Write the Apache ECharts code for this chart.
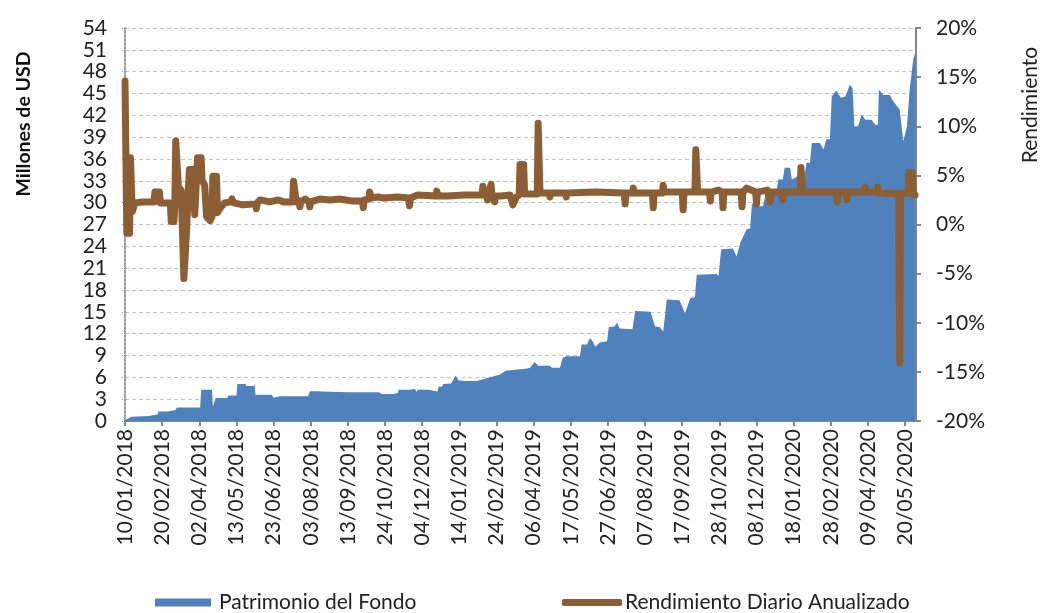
<!DOCTYPE html>
<html>
<head>
<meta charset="utf-8">
<script src="https://cdn.jsdelivr.net/npm/echarts@6/dist/echarts.min.js"></script>
<style>
  html, body { margin: 0; padding: 0; background: #fff; }
  #chart { width: 1042px; height: 613px; }
</style>
</head>
<body>
<div id="chart"></div>
<script>
// días contados desde 10/01/2018
const inicio = Date.UTC(2018, 0, 10);

// Patrimonio del Fondo (millones de USD)
const fondoDias = [0, 3, 7, 26, 28, 36, 37, 47, 48, 56, 57, 83, 84, 96, 97, 99, 100, 113, 114, 123,
  124, 133, 134, 142, 143, 144, 162, 164, 171, 202, 204, 212, 214, 217, 246, 280, 284, 296, 298, 301,
  302, 314, 316, 320, 322, 323, 335, 337, 345, 346, 350, 351, 360, 365, 368, 375, 388, 400, 414, 420,
  422, 444, 447, 452, 456, 469, 471, 480, 483, 487, 502, 504, 510, 513, 516, 519, 524, 532, 534, 540,
  543, 546, 560, 563, 580, 585, 590, 594, 598, 612, 618, 624, 629, 631, 653, 655, 658, 671, 675, 679,
  686, 690, 692, 694, 704, 708, 719, 721, 726, 728, 734, 736, 742, 750, 752, 756, 758, 767, 771, 774,
  778, 780, 785, 790, 795, 800, 803, 805, 809, 813, 817, 824, 828, 831, 832, 837, 844, 848, 855, 859,
  863, 866, 870, 872];
const fondoValores = [0.1, 0.3, 0.6, 0.7, 0.9, 0.9, 1.3, 1.3, 1.5, 1.5, 1.85, 1.85, 4.3, 4.3, 2.0, 2.0, 3.15, 3.15, 3.5, 3.5,
  5.1, 5.1, 4.8, 4.8, 5.1, 3.6, 3.6, 3.2, 3.4, 3.4, 4.1, 4.1, 4.3, 4.05, 3.95, 3.95, 3.7, 3.7, 3.85, 3.85,
  4.3, 4.3, 4.4, 4.4, 4.0, 4.3, 4.3, 4.05, 4.05, 4.7, 4.7, 5.1, 5.15, 6.25, 5.6, 5.5, 5.5, 5.9, 6.4, 6.9,
  7.1, 7.2, 7.3, 8.1, 7.6, 7.6, 7.3, 7.3, 8.7, 8.9, 8.9, 10.5, 10.5, 11.4, 11.0, 10.2, 10.8, 10.96, 12.9, 13.0,
  13.5, 12.7, 12.6, 15.1, 15.0, 13.0, 12.9, 12.3, 16.7, 16.6, 14.8, 16.9, 17.0, 20.1, 20.2, 19.9, 23.6, 23.7, 22.6, 24.5,
  26.3, 26.5, 30.0, 29.5, 29.5, 31.6, 31.6, 33.2, 33.2, 34.8, 34.8, 33.2, 33.6, 33.6, 35.5, 35.5, 38.2, 38.2, 37.3, 38.7,
  38.7, 44.6, 45.4, 44.4, 44.6, 46.2, 45.7, 40.5, 40.5, 42.1, 41.4, 41.4, 40.7, 40.7, 45.5, 44.8, 44.8, 43.9, 42.8, 38.4,
  40.5, 45.5, 49.7, 50.5];

// Rendimiento Diario Anualizado (%)
const rendDias = [0, 1, 2, 5, 6, 7, 8, 9, 11, 20, 32, 33, 38, 39, 50, 51, 54, 55, 56, 58,
  59, 62, 65, 66, 68, 70, 71, 75, 77, 79, 80, 84, 85, 88, 90, 94, 96, 97, 101, 102,
  106, 110, 117, 118, 120, 130, 144, 145, 146, 149, 160, 169, 175, 185, 186, 188, 189, 192, 193, 194,
  199, 203, 204, 205, 215, 226, 237, 250, 262, 263, 264, 269, 270, 272, 279, 286, 301, 313, 314, 315,
  323, 343, 344, 346, 356, 375, 394, 395, 396, 399, 400, 401, 403, 404, 405, 407, 408, 409, 415, 425,
  428, 432, 435, 436, 440, 441, 455, 456, 457, 458, 468, 469, 470, 486, 487, 488, 520, 551, 552, 553,
  560, 561, 562, 582, 583, 584, 593, 594, 595, 615, 616, 617, 629, 630, 631, 632, 645, 646, 647, 655,
  659, 660, 661, 680, 681, 682, 686, 696, 697, 698, 709, 711, 712, 713, 725, 726, 727, 745, 746, 747,
  748, 770, 785, 786, 787, 796, 797, 798, 816, 817, 818, 830, 831, 832, 854, 855, 856, 864, 865, 869,
  870, 872];
const rendValores = [14.6, 14.6, -0.9, -0.9, 6.8, 6.8, 1.3, 1.6, 2.2, 2.3, 2.3, 3.3, 3.3, 2.2, 2.2, 0.3, 0.3, 2.2, 8.5, 8.5,
  3.8, 3.5, -5.5, -5.5, -0.5, -0.3, 5.6, 5.6, 1.0, 1.2, 6.8, 6.8, 4.5, 4.0, 0.8, 0.4, 0.8, 4.9, 4.9, 1.2,
  1.8, 2.2, 2.3, 2.6, 2.2, 2.0, 2.1, 1.6, 2.2, 2.5, 2.3, 2.5, 2.3, 2.3, 4.4, 4.4, 2.3, 2.4, 1.8, 2.3,
  2.6, 2.3, 1.8, 2.3, 2.6, 2.5, 2.6, 2.4, 2.4, 1.7, 2.5, 2.6, 3.3, 2.7, 2.8, 2.7, 2.8, 2.7, 1.9, 2.7,
  3.0, 2.9, 3.4, 2.9, 2.9, 3.0, 3.0, 3.9, 3.0, 2.9, 2.5, 2.9, 2.9, 4.1, 2.9, 2.9, 2.3, 2.9, 2.9, 3.0,
  2.0, 2.8, 3.0, 6.1, 6.1, 3.1, 3.1, 10.3, 10.3, 3.2, 3.2, 2.8, 3.2, 3.2, 2.8, 3.2, 3.3, 3.2, 2.1, 3.2,
  3.2, 3.7, 3.2, 3.2, 1.7, 3.2, 3.2, 4.0, 3.3, 3.3, 1.5, 3.3, 3.3, 7.6, 7.6, 3.3, 3.3, 2.4, 3.3, 3.5,
  3.3, 1.7, 3.3, 3.3, 1.8, 3.3, 3.7, 3.3, 2.1, 3.3, 3.5, 3.3, 2.3, 3.3, 3.3, 2.5, 3.3, 3.3, 5.8, 5.8,
  3.3, 3.3, 3.3, 2.3, 3.3, 3.3, 2.5, 3.3, 3.3, 3.8, 3.3, 3.3, 3.8, 3.2, 3.1, -14.1, 3.1, 3.2, 5.3, 5.3,
  3.0, 3.0];

const azul = '#4F81BD';
const cafe = '#8C5E33';
const fuente = 'Lato, "Noto Sans", sans-serif';

function fecha(dia) {
  const d = new Date(inicio + dia * 86400000);
  const dd = String(d.getUTCDate()).padStart(2, '0');
  const mm = String(d.getUTCMonth() + 1).padStart(2, '0');
  return dd + '/' + mm + '/' + d.getUTCFullYear();
}

const chart = echarts.init(document.getElementById('chart'));

chart.setOption({
  animation: false,
  textStyle: { fontFamily: fuente },
  grid: { left: 125, right: 126, top: 28, bottom: 192 },
  legend: [
    {
      left: 155, top: 592, padding: 0,
      itemWidth: 56, itemHeight: 8, icon: 'rect',
      textStyle: { fontSize: 21, color: '#222', padding: [0, 0, 0, 3] },
      data: ['Patrimonio del Fondo']
    },
    {
      left: 562, top: 592, padding: 0,
      itemWidth: 60, itemHeight: 7, icon: 'roundRect',
      textStyle: { fontSize: 21, color: '#222', padding: [0, 0, 0, -2] },
      data: ['Rendimiento Diario Anualizado']
    }
  ],
  xAxis: {
    type: 'value',
    min: 0, max: 873, interval: 41,
    axisLine: { onZero: false, lineStyle: { color: '#868686', width: 2 } },
    axisTick: { length: 5, lineStyle: { color: '#868686', width: 2 } },
    axisLabel: {
      rotate: 90, fontSize: 21, color: '#222', margin: 8,
      showMaxLabel: false,
      formatter: v => fecha(v)
    },
    splitLine: { show: false }
  },
  yAxis: [
    {
      type: 'value', min: 0, max: 54, interval: 3,
      axisLine: { show: true, lineStyle: { color: '#999', type: 'dotted', width: 2 } },
      axisTick: { show: true, length: 4, lineStyle: { color: '#999', type: 'dotted' } },
      axisLabel: { fontSize: 21, color: '#222', margin: 18 },
      splitLine: { lineStyle: { color: '#c4c4c4', type: [4, 3] } }
    },
    {
      type: 'value', min: -20, max: 20, interval: 5,
      axisLine: { show: true, lineStyle: { color: '#868686', width: 2 } },
      axisTick: { show: true, length: 5, lineStyle: { color: '#868686', width: 2 } },
      axisLabel: { fontSize: 21, color: '#222', margin: 20, formatter: v => v + '%' },
      splitLine: { show: false }
    }
  ],
  graphic: [
    {
      type: 'text', x: 24, y: 124, rotation: Math.PI / 2,
      style: { text: 'Millones de USD', font: 'bold 19.5px ' + fuente, fill: '#111', align: 'center', verticalAlign: 'middle' }
    },
    {
      type: 'text', x: 1030, y: 105, rotation: Math.PI / 2,
      style: { text: 'Rendimiento', font: '21px ' + fuente, fill: '#222', align: 'center', verticalAlign: 'middle' }
    }
  ],
  series: [
    {
      name: 'Patrimonio del Fondo',
      type: 'line',
      yAxisIndex: 0,
      symbol: 'none',
      itemStyle: { color: azul },
      lineStyle: { width: 0 },
      areaStyle: { color: azul, opacity: 1 },
      data: fondoDias.map((d, i) => [d, fondoValores[i]])
    },
    {
      name: 'Rendimiento Diario Anualizado',
      type: 'line',
      yAxisIndex: 1,
      symbol: 'none',
      itemStyle: { color: cafe },
      lineStyle: { color: cafe, width: 7, cap: 'round', join: 'round' },
      data: rendDias.map((d, i) => [d, rendValores[i]])
    }
  ]
});
</script>
</body>
</html>
